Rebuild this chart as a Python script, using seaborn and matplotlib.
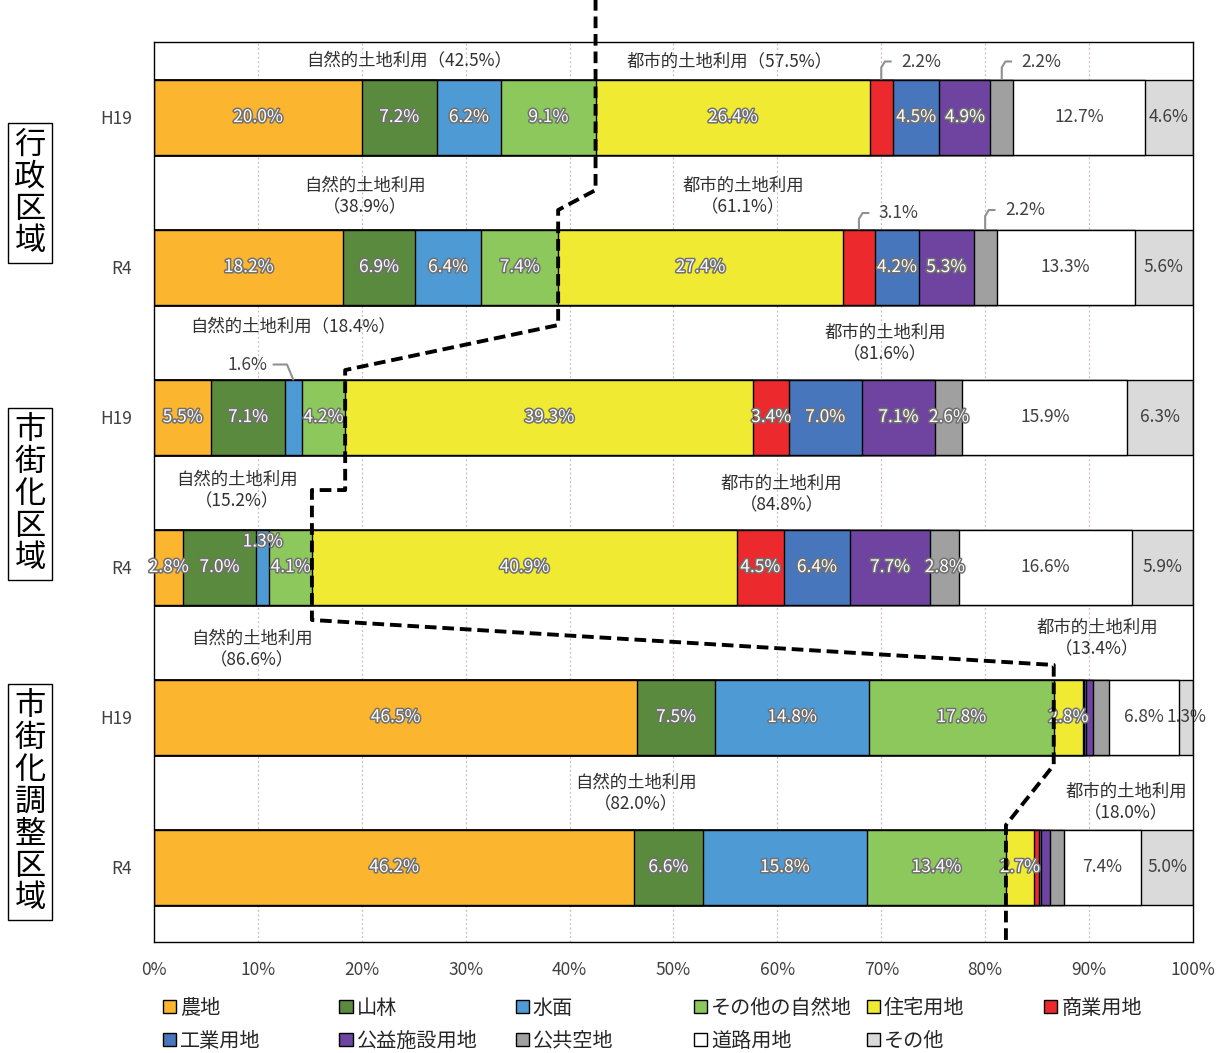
import numpy as np
import pandas as pd
import matplotlib.pyplot as plt
import matplotlib.patheffects as pe
from matplotlib.patches import Patch
import seaborn as sns

categories = ["農地", "山林", "水面", "その他の自然地", "住宅用地", "商業用地",
              "工業用地", "公益施設用地", "公共空地", "道路用地", "その他"]
colors = ["#FBB52F", "#5A8A3E", "#4E9AD5", "#8CC85C", "#F0EA33", "#EC2A2E",
          "#4876BD", "#6F44A0", "#A0A0A0", "#FFFFFF", "#DADADA"]

groups = ["行政区域", "市街化区域", "市街化調整区域"]
row_keys = ["行政区域_H19", "行政区域_R4", "市街化区域_H19", "市街化区域_R4",
            "市街化調整区域_H19", "市街化調整区域_R4"]
row_labels = ["H19", "R4", "H19", "R4", "H19", "R4"]

gyosei_h19 = [20.0, 7.2, 6.2, 9.1, 26.4, 2.2, 4.5, 4.9, 2.2, 12.7, 4.6]
gyosei_r4 = [18.2, 6.9, 6.4, 7.4, 27.4, 3.1, 4.2, 5.3, 2.2, 13.3, 5.6]
shigaika_h19 = [5.5, 7.1, 1.6, 4.2, 39.3, 3.4, 7.0, 7.1, 2.6, 15.9, 6.3]
shigaika_r4 = [2.8, 7.0, 1.3, 4.1, 40.9, 4.5, 6.4, 7.7, 2.8, 16.6, 5.9]
chosei_h19 = [46.5, 7.5, 14.8, 17.8, 2.8, 0.1, 0.2, 0.7, 1.5, 6.8, 1.3]
chosei_r4 = [46.2, 6.6, 15.8, 13.4, 2.7, 0.5, 0.2, 0.8, 1.4, 7.4, 5.0]

rows = [gyosei_h19, gyosei_r4, shigaika_h19, shigaika_r4, chosei_h19, chosei_r4]

df = pd.DataFrame(rows, columns=categories, index=row_keys)
cum = df.cumsum(axis=1)
natural = df.iloc[:, :4].sum(axis=1).round(1).values
urban = df.iloc[:, 4:].sum(axis=1).round(1).values

FONT = ["Noto Sans CJK JP", "DejaVu Sans"]
sns.set_style("white")
plt.rcParams["font.family"] = FONT

fig = plt.figure(figsize=(12.32, 10.53), dpi=100)
ax = fig.add_axes([0.125, 0.1054, 0.8433, 0.8547])

# stacked bars: draw cumulative totals from the right end back to the left
for k in reversed(range(len(categories))):
    sns.barplot(x=cum.iloc[:, k].values, y=row_keys, orient="h", color=colors[k],
                saturation=1, width=0.5, edgecolor="black", linewidth=1,
                errorbar=None, ax=ax, zorder=2)

ax.set_xlim(0, 100)
ax.set_ylim(5.5, -0.5)
ax.set_xticks(np.arange(0, 101, 10))
ax.set_xticklabels([f"{t}%" for t in range(0, 101, 10)])
ax.set_yticks(range(len(row_labels)))
ax.set_yticklabels(row_labels)
ax.tick_params(axis="both", length=0, labelsize=12.5, labelcolor="#404040")
ax.tick_params(axis="x", pad=14)
ax.tick_params(axis="y", pad=16)
ax.set_xlabel("")
ax.set_ylabel("")
for x in range(10, 100, 10):
    ax.axvline(x, color="#cbbcbc", lw=0.9, ls=(0, (1.5, 2)), zorder=0)
for s in ax.spines.values():
    s.set_color("black")
    s.set_linewidth(1)

# value labels inside the segments
outline = [pe.withStroke(linewidth=2.2, foreground="#707070")]
skip_cells = {(0, 5), (0, 8), (1, 5), (1, 8), (2, 2), (4, 8), (5, 8)}
for r in range(len(rows)):
    left = 0.0
    for k, v in enumerate(rows[r]):
        cx = left + v / 2
        left += v
        if v < 1.3 or (r, k) in skip_cells:
            continue
        y = r - 0.17 if (r, k) == (3, 2) else r
        if k >= 9:
            ax.text(cx, y, f"{v:.1f}%", ha="center", va="center", fontsize=12.5,
                    color="#404040", zorder=4)
        else:
            ax.text(cx, y, f"{v:.1f}%", ha="center", va="center", fontsize=12.5,
                    color="white", path_effects=outline, zorder=4)

# callouts for small segments
callouts = [(0, 5, -0.37, "up"), (0, 8, -0.37, "up"), (1, 5, -0.36, "up"),
            (1, 8, -0.38, "up"), (2, 2, -0.35, "left")]
for r, k, dy, style in callouts:
    v = rows[r][k]
    cx = sum(rows[r][:k]) + v / 2
    ty = r + dy
    if style == "up":
        ax.plot([cx, cx, cx + 0.35, cx + 1.0], [r - 0.25, ty + 0.04, ty, ty],
                color="#909090", lw=1.5, zorder=3, solid_capstyle="butt")
        ax.text(cx + 1.9, ty, f"{v:.1f}%", ha="left", va="center", fontsize=12.5,
                color="#404040")
    else:
        ax.plot([cx - 1.9, cx - 0.6, cx], [ty, ty, r - 0.25],
                color="#909090", lw=1.5, zorder=3)
        ax.text(cx - 2.5, ty, f"{v:.1f}%", ha="right", va="center", fontsize=12.5,
                color="#404040")

# natural / urban share labels
nat_pos = [(24.6, -0.37), (20.3, -0.47), (13.4, -0.6), (8.0, -0.51), (9.4, -0.45), (46.4, -0.49)]
urb_pos = [(55.4, -0.37), (56.7, -0.47), (70.4, -0.49), (60.4, -0.48), (90.8, -0.52), (93.6, -0.43)]
nat_oneline = [True, False, True, False, False, False]
urb_oneline = [True, False, False, False, False, False]
for r in range(len(rows)):
    sep = "" if nat_oneline[r] else "\n"
    ax.text(nat_pos[r][0], r + nat_pos[r][1], f"自然的土地利用{sep}（{natural[r]:.1f}%）",
            ha="center", va="center", fontsize=12.5, color="#303030", linespacing=1.25)
    sep = "" if urb_oneline[r] else "\n"
    ax.text(urb_pos[r][0], r + urb_pos[r][1], f"都市的土地利用{sep}（{urban[r]:.1f}%）",
            ha="center", va="center", fontsize=12.5, color="#303030", linespacing=1.25)

# dashed boundary between natural and urban land use
jogs = [(0.487, 0.62), (1.387, 1.687), (2.487, 2.487), (3.353, 3.653), (4.32, 4.72)]
xs, ys = [natural[0]], [-0.8]
for r, (y0, y1) in enumerate(jogs):
    xs += [natural[r], natural[r + 1]]
    ys += [y0, y1]
xs.append(natural[-1])
ys.append(5.5)
ax.plot(xs, ys, color="black", lw=2.8, ls=(0, (3, 1.5)), zorder=5, clip_on=False)

# group labels on the left
for g, yc in zip(groups, [0.8167, 0.5309, 0.2383]):
    fig.text(0.0244, yc, "\n".join(g), ha="center", va="center", fontsize=22.5,
             linespacing=1.0, color="black",
             bbox=dict(boxstyle="square,pad=0.2", fc="white", ec="black", lw=1))

# legend in a 6-column grid
col_x = [0.1325, 0.2755, 0.4185, 0.5635, 0.7035, 0.8475]
for j, x in enumerate(col_x):
    idx = [j, j + 6] if j + 6 < len(categories) else [j]
    handles = [Patch(facecolor=colors[i], edgecolor="black", lw=1, label=categories[i]) for i in idx]
    fig.legend(handles=handles, loc="upper left", bbox_to_anchor=(x, 0.0525),
               frameon=False, fontsize=14.5, handlelength=0.65, handleheight=0.65,
               handletextpad=0.2, labelspacing=0.6, borderpad=0, borderaxespad=0)

fig.savefig("out.png", dpi=100)
